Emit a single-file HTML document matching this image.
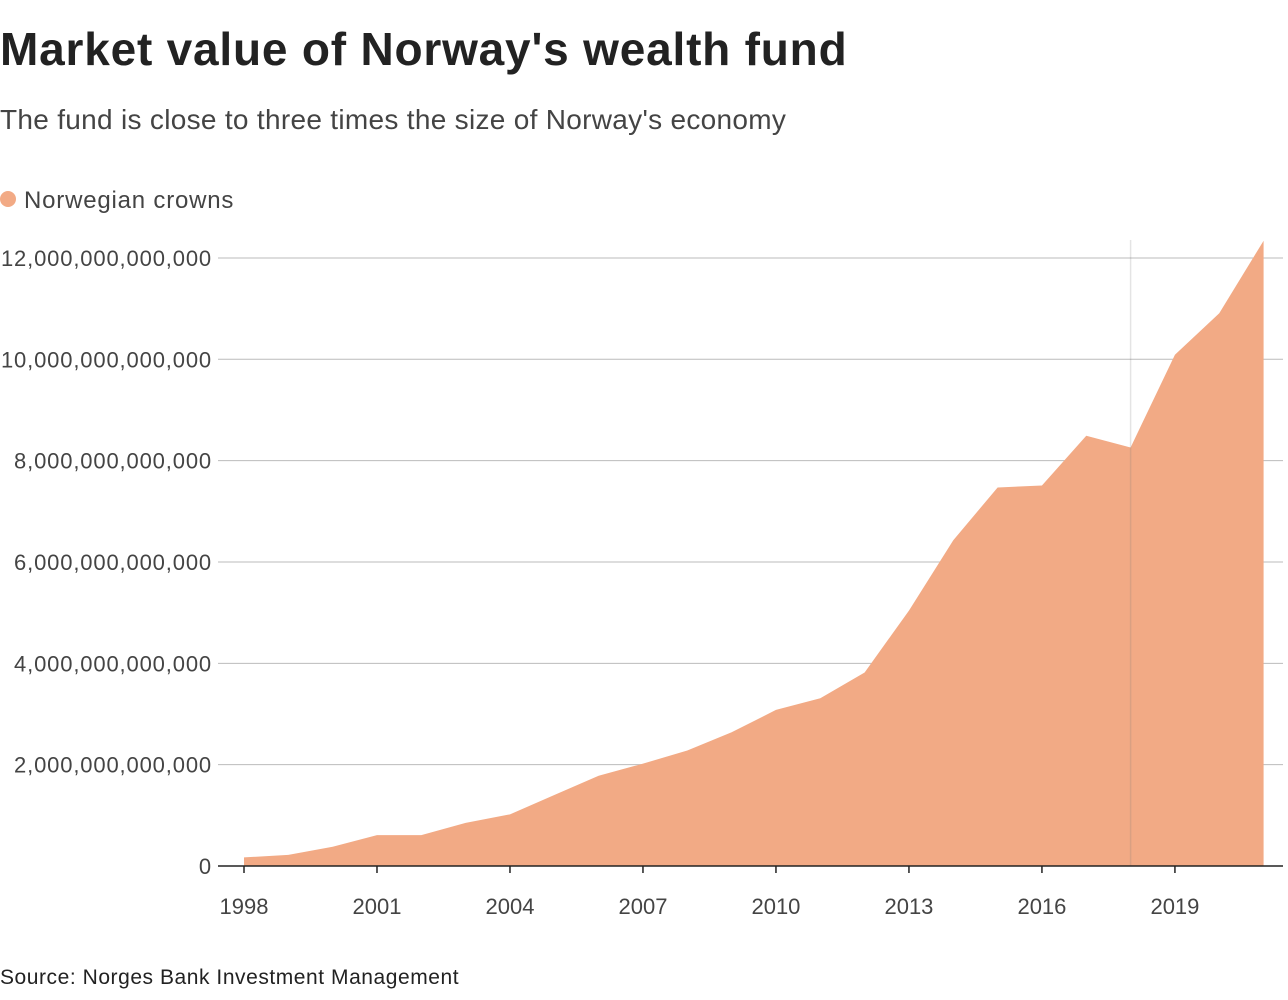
<!DOCTYPE html>
<html><head><meta charset="utf-8"><style>
body{margin:0;background:#fff;width:1288px;height:1000px;overflow:hidden;font-family:"Liberation Sans",sans-serif;color:#222}
#title{position:absolute;left:0;top:24px;font-size:46px;font-weight:bold;letter-spacing:0.8px;margin:0;line-height:1.1}
#sub{position:absolute;left:0;top:104px;font-size:28px;color:#444;letter-spacing:0.3px}
#legend{position:absolute;left:0;top:187px;font-size:24px;color:#444;letter-spacing:0.8px}
#legend span.dot{display:inline-block;width:16px;height:16px;border-radius:50%;background:#f2aa85;margin-right:8px;vertical-align:1px}
#src{position:absolute;left:0;top:966px;font-size:21px;color:#222;letter-spacing:0.55px}
svg{position:absolute;left:0;top:0}
</style></head><body>
<h1 id="title">Market value of Norway's wealth fund</h1>
<div id="sub">The fund is close to three times the size of Norway's economy</div>
<div id="legend"><span class="dot"></span>Norwegian crowns</div>
<div id="src">Source: Norges Bank Investment Management</div>
<svg id="chart" width="1288" height="1000"></svg>
<script>
const years=[1998,1999,2000,2001,2002,2003,2004,2005,2006,2007,2008,2009,2010,2011,2012,2013,2014,2015,2016,2017,2018,2019,2020,2021];
const values=[0.17,0.22,0.38,0.61,0.61,0.85,1.02,1.40,1.78,2.02,2.28,2.64,3.08,3.31,3.82,5.04,6.43,7.47,7.51,8.49,8.26,10.09,10.91,12.34];
const yTicks=[0,2,4,6,8,10,12];
const yTickLabels=["0","2,000,000,000,000","4,000,000,000,000","6,000,000,000,000","8,000,000,000,000","10,000,000,000,000","12,000,000,000,000"];
const xTicks=[1998,2001,2004,2007,2010,2013,2016,2019];
const ns="http://www.w3.org/2000/svg";
const svg=document.getElementById('chart');
const x=v=>244+(v-1998)*44.33;
const y=v=>866-v*50.67;
function mk(t,a){const e=document.createElementNS(ns,t);for(const k in a)e.setAttribute(k,a[k]);svg.appendChild(e);return e;}
yTicks.forEach((t,i)=>{
 if(t>0){const g=mk('line',{x1:218,x2:1283,y1:y(t),y2:y(t),stroke:'#bbb','stroke-width':1});
 
 }
 const l=mk('text',{x:212,y:y(t)+8,'text-anchor':'end','font-size':22,fill:'#444','letter-spacing':'0.85'});
 l.textContent=yTickLabels[i];
 
 
});
let d='M'+x(years[0])+','+y(0);
years.forEach((yr,i)=>{d+=' L'+x(yr)+','+y(values[i]);});
d+=' L'+x(years[years.length-1])+','+y(0)+' Z';
const a=mk('path',{d:d,fill:'#f2aa85'});


const vl=mk('line',{x1:x(2018),x2:x(2018),y1:240,y2:866,stroke:'rgba(120,120,120,0.2)','stroke-width':1.5});


const ax=mk('line',{x1:218,x2:1283,y1:866,y2:866,stroke:'#222','stroke-width':1.5});


xTicks.forEach(t=>{
 const tk=mk('line',{x1:x(t),x2:x(t),y1:866,y2:873,stroke:'#222','stroke-width':1.5});
 
 
 const l=mk('text',{x:x(t),y:914,'text-anchor':'middle','font-size':22,fill:'#444'});
 l.textContent=t;
 
 
});
</script>
</body></html>
